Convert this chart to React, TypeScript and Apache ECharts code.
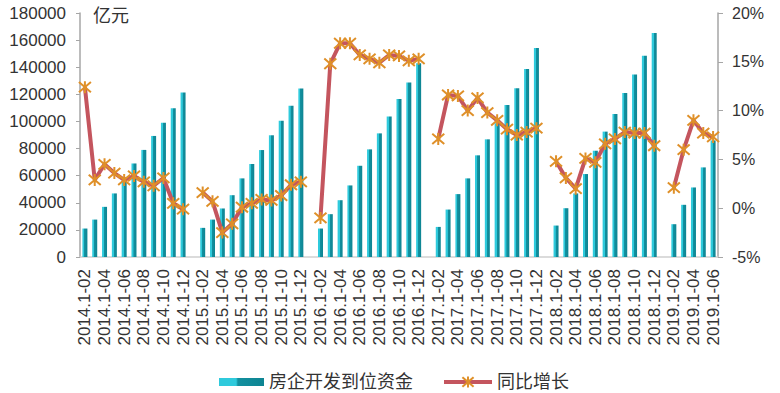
import React, { useEffect, useRef } from "react";
import * as echarts from "echarts";

const years = ["2014", "2015", "2016", "2017", "2018", "2019"];
const months = ["02", "03", "04", "05", "06", "07", "08", "09", "10", "11", "12"];

// 房企开发到位资金 (亿元), cumulative Jan-X
const fund2014 = [21000, 27600, 37000, 46900, 56500, 69000, 79000, 89300, 99000, 109700, 121300];
const fund2015 = [21500, 27600, 35800, 45600, 58000, 68600, 78900, 89800, 100600, 111500, 124300];
const fund2016 = [21000, 31600, 41900, 52800, 67300, 79400, 91200, 103600, 116600, 128700, 143000];
const fund2017 = [22200, 35000, 46400, 58000, 75000, 86800, 98600, 112200, 124500, 138600, 154100];
const fund2018 = [23200, 36000, 46900, 61200, 78400, 92500, 105500, 120900, 134600, 148500, 165200];
const fund2019 = [24200, 38500, 51300, 66100, 86000];

// 同比增长 (%)
const yoy2014 = [12.4, 2.9, 4.5, 3.6, 2.9, 3.3, 2.7, 2.3, 3.1, 0.5, -0.1];
const yoy2015 = [1.6, 0.7, -2.5, -1.6, 0.1, 0.5, 0.9, 0.8, 1.3, 2.4, 2.7];
const yoy2016 = [-1.0, 14.8, 16.9, 16.9, 15.7, 15.3, 14.9, 15.7, 15.6, 15.1, 15.3];
const yoy2017 = [7.1, 11.6, 11.5, 10.0, 11.3, 9.8, 9.0, 8.1, 7.5, 7.8, 8.2];
const yoy2018 = [4.8, 3.1, 2.0, 5.1, 4.7, 6.6, 7.1, 7.8, 7.7, 7.7, 6.4];
const yoy2019 = [2.1, 6.0, 9.0, 7.7, 7.3];

const leftTicks = { min: 0, max: 180000, interval: 20000 };
const rightTicks = { min: -5, max: 20, interval: 5 };

const fundByYear = [fund2014, fund2015, fund2016, fund2017, fund2018, fund2019];
const yoyByYear = [yoy2014, yoy2015, yoy2016, yoy2017, yoy2018, yoy2019];

// Build category axis with one empty slot between years
const categories: string[] = [];
const fundData: (number | null)[] = [];
const yoyData: (number | null)[] = [];
years.forEach((y, yi) => {
  fundByYear[yi].forEach((v, mi) => {
    categories.push(`${y}.1-${months[mi]}`);
    fundData.push(v);
    yoyData.push(yoyByYear[yi][mi]);
  });
  if (yi < years.length - 1) {
    categories.push(`${years[yi + 1]}.1-01`);
    fundData.push(null);
    yoyData.push(null);
  }
});

const FONT = "'Liberation Sans', Arial, 'Noto Sans CJK SC', sans-serif";
const TEXT = "#333333";
const STAR = "path://M0 0L12 12M12 0L0 12M6 -1L6 13";
const LINE_COLOR = "#c4555e";
const MARK_COLOR = "#df9029";

export default function App() {
  const ref = useRef<HTMLDivElement>(null);
  useEffect(() => {
    document.body.style.margin = "0";
    const chart = echarts.init(ref.current!, null, { renderer: "svg" });
    const barGradient = new echarts.graphic.LinearGradient(0, 0, 1, 0, [
      { offset: 0, color: "#2fcadc" },
      { offset: 0.38, color: "#2fcadc" },
      { offset: 0.42, color: "#12909f" },
      { offset: 1, color: "#0e8492" },
    ]);
    const legendText = { fontSize: 18, color: TEXT, fontFamily: FONT };
    chart.setOption({
      animation: false,
      textStyle: { fontFamily: FONT },
      grid: { left: 80, right: 62, top: 13, bottom: 136 },
      graphic: [
        {
          type: "text",
          left: 93,
          top: 7,
          style: { text: "亿元", fontSize: 18, fill: TEXT, fontFamily: FONT },
        },
      ],
      legend: [
        {
          left: 214,
          top: 368,
          itemWidth: 45,
          itemHeight: 8,
          textStyle: legendText,
          data: [{ name: "房企开发到位资金", icon: "rect" }],
        },
        {
          left: 437,
          top: 368,
          itemWidth: 48,
          itemHeight: 14,
          textStyle: legendText,
          lineStyle: { width: 4, color: LINE_COLOR },
          data: [{ name: "同比增长" }],
        },
      ],
      xAxis: {
        type: "category",
        data: categories,
        boundaryGap: true,
        axisLine: { show: true, lineStyle: { color: "#d0d0d0", width: 1.5 } },
        axisTick: { show: false },
        axisLabel: {
          interval: 1,
          rotate: 90,
          margin: 12,
          fontSize: 17,
          color: TEXT,
          fontFamily: FONT,
        },
        splitLine: { show: false },
      },
      yAxis: [
        {
          type: "value",
          min: leftTicks.min,
          max: leftTicks.max,
          interval: leftTicks.interval,
          axisLine: { show: true, lineStyle: { color: "#a6a6a6", width: 1.5 } },
          axisTick: { show: true, length: 4, lineStyle: { color: "#a6a6a6" } },
          axisLabel: {
            fontSize: 17,
            color: TEXT,
            margin: 14,
            fontFamily: FONT,
            formatter: (v: number) => String(v),
          },
          splitLine: { show: false },
        },
        {
          type: "value",
          position: "right",
          min: rightTicks.min,
          max: rightTicks.max,
          interval: rightTicks.interval,
          axisLine: { show: true, lineStyle: { color: "#a6a6a6", width: 1.5 } },
          axisTick: { show: true, length: 5, lineStyle: { color: "#a6a6a6" } },
          axisLabel: {
            fontSize: 16,
            color: TEXT,
            margin: 14,
            fontFamily: FONT,
            formatter: (v: number) => `${v}%`,
          },
          splitLine: { show: false },
        },
      ],
      series: [
        {
          name: "房企开发到位资金",
          type: "bar",
          data: fundData,
          barWidth: 5,
          itemStyle: { color: barGradient },
          z: 2,
        },
        {
          name: "同比增长",
          type: "line",
          yAxisIndex: 1,
          data: yoyData,
          connectNulls: false,
          showAllSymbol: true,
          symbol: STAR,
          symbolSize: 12,
          lineStyle: { color: LINE_COLOR, width: 4 },
          itemStyle: { color: MARK_COLOR, borderColor: MARK_COLOR, borderWidth: 2 },
          z: 3,
        },
      ],
    });
    return () => chart.dispose();
  }, []);
  return <div ref={ref} style={{ width: 780, height: 393 }} />;
}
